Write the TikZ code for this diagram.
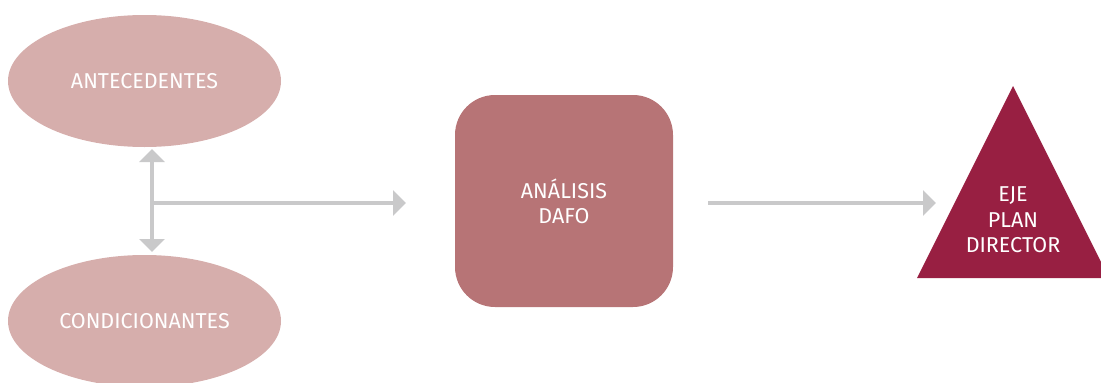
\documentclass[tikz,border=0pt]{standalone}
\usepackage{fontspec}
\setmainfont{Fira Sans}
\usetikzlibrary{shapes.geometric,arrows.meta}
\definecolor{ellcol}{HTML}{D6AEAC}
\definecolor{rectcol}{HTML}{B77476}
\definecolor{tricol}{HTML}{981F42}
\definecolor{arrcol}{HTML}{C9C9CA}
\tikzset{
  ellbox/.style={ellipse, fill=ellcol, minimum width=273pt, minimum height=132pt, inner sep=0pt, text=white, font=\fontsize{21.5}{22}\selectfont},
  rbox/.style={rectangle, rounded corners=40pt, fill=rectcol, minimum width=218pt, minimum height=212pt, text=white, align=center, font=\fontsize{21.5}{25}\selectfont},
  tritext/.style={text=white, align=center, font=\fontsize{21.5}{25.5}\selectfont},
  conn/.style={draw=arrcol, line width=4pt, -{Triangle[length=13pt,width=25pt]}},
  dconn/.style={draw=arrcol, line width=4pt, {Triangle[length=13pt,width=25pt]}-{Triangle[length=13pt,width=25pt]}}
}
\begin{document}
\begin{tikzpicture}[x=1pt,y=-1pt]
\useasboundingbox (0,0) rectangle (1101,383);
\node[ellbox] (ant) at (144.5,81) {ANTECEDENTES};
\node[ellbox] (con) at (144.5,321) {CONDICIONANTES};
\node[rbox] (dafo) at (564,201) {ANÁLISIS\\DAFO};
\fill[tricol] (1013,86) -- (1109,278) -- (917,278) -- cycle;
\node[tritext] (eje) at (1013,220) {EJE\\PLAN\\DIRECTOR};
\coordinate (vtop) at (152,149);
\coordinate (vbot) at (152,252);
\coordinate (hstart) at (152,203);
\coordinate (hend) at (406,203);
\coordinate (d2) at (708,203);
\coordinate (tri) at (936,203);
\draw[dconn] (vtop) -- (vbot);
\draw[conn] (hstart) -- (hend);
\draw[conn] (d2) -- (tri);
\end{tikzpicture}
\end{document}
